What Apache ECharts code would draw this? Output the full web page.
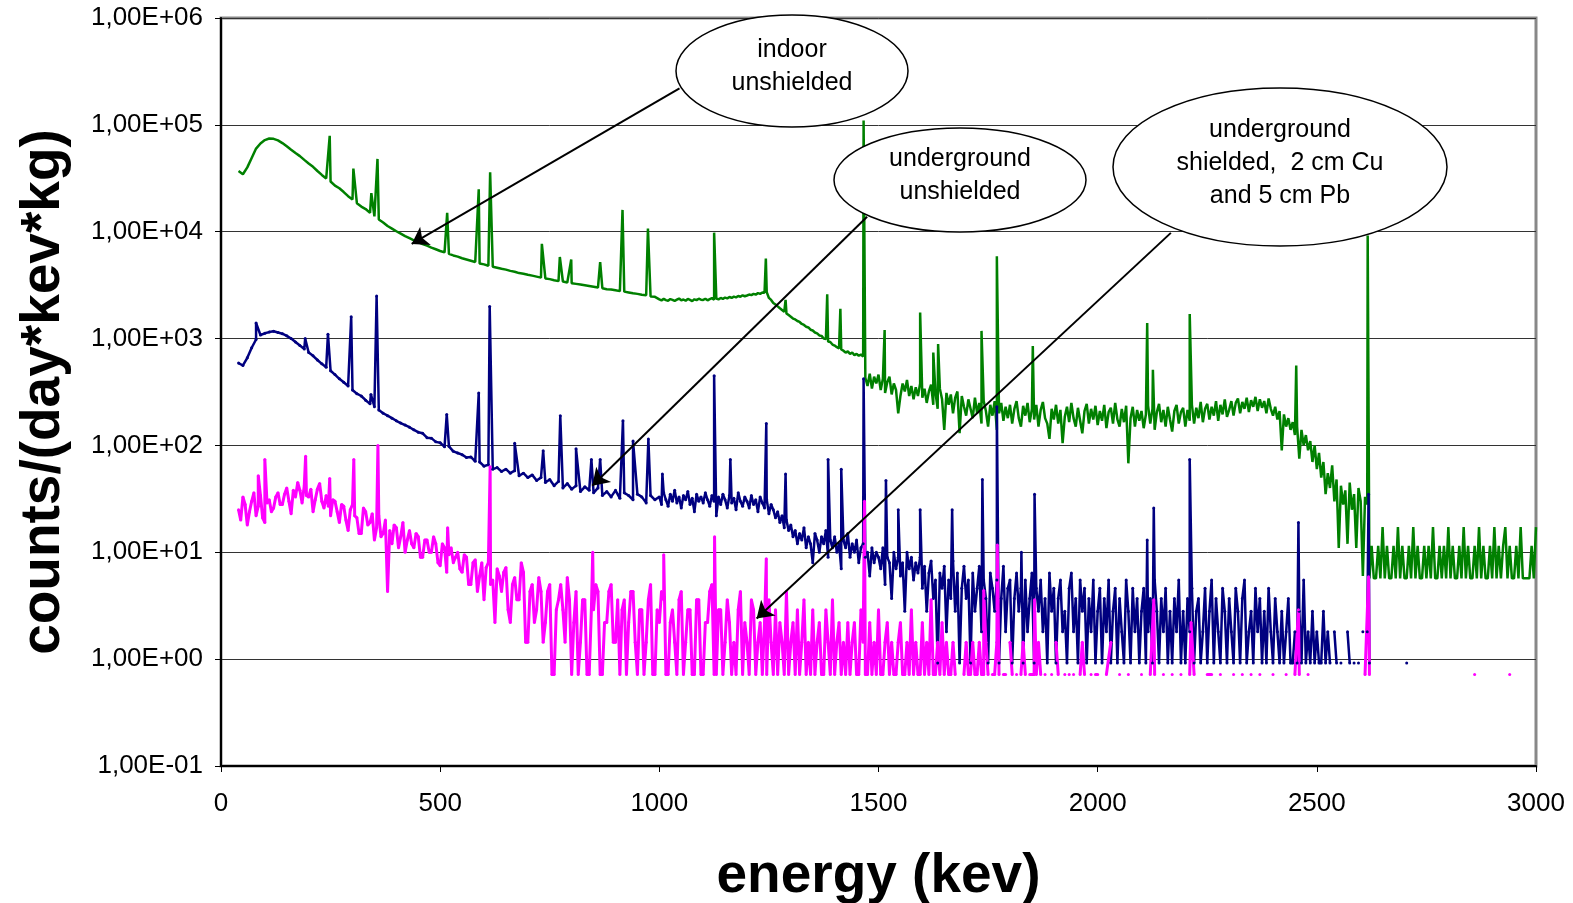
<!DOCTYPE html>
<html>
<head>
<meta charset="utf-8">
<title>gamma background spectra</title>
<script src="https://cdn.jsdelivr.net/npm/echarts@6/dist/echarts.min.js"></script>
<style>
  html, body { margin: 0; padding: 0; background: #fff; }
  #chart { width: 1573px; height: 903px; }
</style>
</head>
<body>
<div id="chart"></div>
<script>
// indoor unshielded (green): 40-990 keV every 10 keV, 1000-3000 keV every 5 keV
var greenLowStart = 40, greenLowStep = 10;
var greenLowCounts = [
  37000, 34500, 40000, 49000, 60000, 67000, 72000, 74500, 74000, 71500,
  67500, 63000, 58500, 54500, 51000, 47000, 43500, 40500, 37000, 34000,
  31500, 29500, 27000, 25500, 23500, 21500, 20000, 18500, 17200, 16300,
  15000, 13900, 13000, 12200, 11300, 10700, 10100, 9600, 9100, 8700,
  8300, 8000, 7650, 7400, 7100, 6850, 6600, 6400, 6200, 6000,
  5850, 5650, 5500, 5350, 5200, 5050, 4950, 4800, 4700, 4600,
  4500, 4420, 4300, 4220, 4100, 4050, 3960, 3880, 3800, 3720,
  3650, 3600, 3520, 3450, 3420, 3350, 3300, 3250, 3200, 3150,
  3100, 3050, 3000, 2960, 2900, 2880, 2830, 2780, 2750, 2700,
  2650, 2620, 2570, 2540, 2480, 2460
];
var greenHighStart = 1000, greenHighStep = 5;
var greenHighCounts = [
  2330, 2280, 2350, 2290, 2260, 2340, 2300, 2250, 2310, 2370, 2280, 2320, 2260, 2350, 2300, 2240, 2330, 2290, 2360, 2310,
  2300, 2360, 2280, 2340, 2390, 2310, 2370, 2330, 2400, 2350, 2420, 2380, 2450, 2400, 2470, 2430, 2500, 2460, 2540, 2490,
  2530, 2580, 2550, 2620, 2580, 2660, 2620, 2700, 2680, 2720, 2400, 2300, 2150, 2080, 2000, 1920, 1850, 1780, 1720, 1660,
  1600, 1540, 1510, 1460, 1430, 1370, 1340, 1290, 1270, 1210, 1190, 1140, 1120, 1070, 1060, 1000, 990, 940, 930, 880,
  860, 830, 810, 790, 770, 740, 760, 720, 740, 700, 720, 690, 710, 680, 430, 360, 470, 340, 440, 380,
  460, 330, 420, 310, 390, 440, 300, 380, 330, 200, 290, 380, 320, 410, 290, 360, 270, 350, 290, 380,
  280, 340, 250, 320, 370, 240, 310, 220, 340, 270, 140, 310, 240, 300, 200, 280, 320, 130, 290, 230,
  190, 270, 220, 180, 280, 200, 250, 160, 260, 210, 150, 240, 190, 260, 140, 200, 250, 170, 230, 180,
  240, 160, 220, 260, 180, 150, 235, 190, 250, 165, 220, 175, 240, 150, 215, 255, 180, 160, 115, 220,
  175, 240, 160, 215, 105, 185, 230, 165, 250, 180, 150, 225, 170, 130, 210, 245, 160, 220, 175, 235,
  155, 210, 170, 240, 145, 205, 225, 160, 250, 175, 150, 220, 165, 235, 68, 180, 230, 150, 215, 170,
  210, 145, 195, 235, 160, 220, 140, 205, 245, 165, 215, 150, 230, 175, 135, 210, 240, 160, 205, 225,
  150, 215, 170, 240, 160, 225, 180, 255, 165, 220, 245, 175, 230, 190, 260, 170, 240, 195, 270, 185,
  215, 260, 190, 250, 275, 200, 255, 220, 280, 205, 265, 230, 285, 210, 270, 225, 260, 200, 275, 220,
  190, 230, 175, 210, 90, 195, 150, 180, 140, 165, 125, 150, 75, 140, 100, 125, 90, 110, 70, 100,
  60, 85, 50, 70, 35, 55, 40, 65, 30, 48, 11, 42, 28, 38, 12, 45, 25, 35, 11, 40,
  30, 6, 33, 28, 5.7, 11.5, 5.7, 5.7, 11.5, 5.7, 17.2, 5.7, 11.5, 5.7, 5.7, 11.5, 5.7, 17.2, 5.7, 11.5,
  5.7, 5.7, 11.5, 5.7, 17.2, 5.7, 11.5, 5.7, 5.7, 11.5, 5.7, 11.5, 5.7, 17.2, 5.7, 5.7, 11.5, 5.7, 11.5, 5.7,
  17.2, 5.7, 11.5, 5.7, 5.7, 11.5, 5.7, 17.2, 5.7, 11.5, 5.7, 5.7, 11.5, 5.7, 17.2, 5.7, 11.5, 5.7, 5.7, 11.5,
  5.7, 17.2, 5.7, 11.5, 5.7, 11.5, 17.2, 5.7, 11.5, 5.7, 5.7, 11.5, 5.7, 17.2, 5.7, 5.7, 5.7, 5.7, 11.5, 5.7,
  17.2
];
var greenPeakE = [248, 302, 343, 357, 516, 588, 614, 732, 773, 799, 865, 916, 974, 1125, 1243, 1288,
  1383, 1413, 1466, 1514, 1595, 1625, 1636, 1735, 1770, 1852, 2113, 2126, 2210, 2453, 2616];
var greenPeakV = [79000, 39000, 23000, 48000, 15000, 25000, 36000, 7700, 5800, 5500, 5200, 16000, 10700, 9800, 5600, 2300,
  2600, 1900, 110000, 1200, 1750, 740, 890, 1180, 5900, 850, 1400, 510, 1700, 560, 9200];

// underground unshielded (blue): 40-990 keV every 10 keV, 1000-2710 keV every 5 keV
var blueLowStart = 40, blueLowStep = 10;
var blueLowCounts = [
  590, 560, 660, 820, 980, 1080, 1120, 1150, 1170, 1140,
  1110, 1060, 1000, 930, 860, 800, 740, 690, 630, 580,
  540, 500, 460, 420, 390, 360, 330, 305, 290, 265,
  245, 230, 215, 200, 190, 180, 170, 162, 155, 148,
  140, 133, 130, 118, 117, 108, 106, 97, 98, 88,
  85, 82, 77, 78, 71, 70, 64, 66, 60, 62,
  57, 60, 55, 58, 52, 55, 50, 53, 47, 50,
  45, 48, 42, 46, 40, 44, 39, 42, 37, 41,
  38, 36, 40, 34, 37, 33, 38, 32, 36, 34,
  31, 35, 33, 29, 34, 31
];
var blueHighStart = 1000, blueHighStep = 5;
var blueHighCounts = [
  33, 28, 36, 31, 27, 35, 30, 38, 29, 33, 26, 34, 31, 37, 28, 32, 24, 35, 30, 33,
  29, 36, 31, 27, 34, 30, 22, 33, 28, 35, 31, 26, 34, 29, 32, 25, 36, 30, 27, 33,
  30, 26, 34, 28, 31, 24, 33, 29, 26, 31, 23, 28, 25, 21, 24, 19, 22, 17, 20, 16,
  18, 14, 16, 12, 15, 13, 17, 11, 14, 12, 8, 15, 13, 10, 14, 12, 16, 9, 13, 11,
  14, 10, 12, 7, 13, 11, 15, 9, 12, 10, 13, 8, 11, 12, 9, 10, 6, 11, 8, 10,
  9, 7, 11, 5, 9, 8, 3.7, 10, 7, 9, 6, 8, 2.8, 10, 7, 9, 5.5, 8, 6.4, 9,
  4.6, 7.4, 2.8, 6.4, 8.3, 3.7, 5.5, 0.92, 6.4, 4.6, 7.4, 1.8, 5.5, 3.7, 8.3, 2.8, 6.4, 0.92, 4.6, 7.4,
  3.7, 5.5, 0.92, 6.4, 2.8, 4.6, 7.4, 1.8, 5.5, 3.7, 0.92, 6.4, 4.6, 2.8, 5.5, 0.92, 3.7, 7.4, 1.8, 4.6,
  5.5, 0.92, 3.7, 6.4, 2.8, 4.6, 0.92, 5.5, 1.8, 3.7, 6.4, 0.92, 4.6, 2.8, 5.5, 1.8, 3.7, 0.92, 6.4, 2.8,
  4.6, 0.92, 3.7, 5.5, 1.8, 2.8, 0.92, 4.6, 6.4, 1.8, 3.7, 0.92, 5.5, 2.8, 4.6, 0.92, 3.7, 1.8, 5.5, 0.92,
  2.8, 4.6, 0.92, 3.7, 1.8, 5.5, 0.92, 2.8, 4.6, 0.92, 3.7, 1.8, 0.92, 5.5, 2.8, 0.92, 4.6, 1.8, 3.7, 0.92,
  2.8, 4.6, 0.92, 1.8, 3.7, 0.92, 5.5, 2.8, 0.92, 3.7, 1.8, 4.6, 0.92, 2.8, 0.92, 3.7, 1.8, 5.5, 0.92, 2.8,
  0.92, 3.7, 1.8, 4.6, 0.92, 2.8, 3.7, 0.92, 1.8, 4.6, 0.92, 2.8, 5.5, 0.92, 3.7, 1.8, 0.92, 4.6, 2.8, 0.92,
  3.7, 1.8, 0.92, 4.6, 2.8, 0.92, 3.7, 5.5, 0.92, 1.8, 2.8, 0.92, 4.6, 1.8, 3.7, 0.92, 2.8, 0.92, 4.6, 1.8,
  0.92, 3.7, 1.8, 0.92, 2.8, 0.92, 1.8, 3.7, 0.92, 0.92, 1.8, 0.92, 2.8, 0.92, 5.5, 0.92, 1.8, 0.92, 2.8, 0.92,
  1.8, 0.92, 0.92, 2.8, 0.92, 1.8, 0.92, null, 1.8, 0.92, null, 0.92, null, null, 1.8, 0.92, null, 0.92, null, 0.92,
  null, 1.8, null, 1.8, 0.92, null, null, null, null, null, null, null, null, null, null, null, null, null, null, null,
  null, 0.92, null
];
var bluePeakE = [80, 192, 244, 297, 342, 355, 515, 588, 613, 670, 735, 774, 810, 845, 865, 917, 940, 975, 1007,
  1125, 1162, 1244, 1288, 1385, 1415, 1466, 1517, 1545, 1595, 1668, 1737, 1770, 1826, 1856, 2113, 2128, 2210, 2458, 2618];
var bluePeakV = [1400, 1000, 1100, 1600, 300, 2500, 195, 310, 2000, 105, 89, 190, 93, 74, 74, 170, 110, 115, 54,
  450, 74, 160, 54, 74, 60, 420, 47, 25, 25, 25, 48, 230, 10, 35, 13, 26, 74, 19, 35];

// underground shielded, 2 cm Cu + 5 cm Pb (magenta): 40-1995 keV every 5 keV, 2000-3000 keV every 10 keV
var pinkLowStart = 40, pinkLowStep = 5;
var pinkLowCounts = [
  25, 20, 33, 28, 18, 24, 30, 36, 22, 27, 34, 21, 19, 29, 31, 24, 26, 33, 36, 28,
  28, 35, 40, 30, 23, 38, 33, 45, 38, 29, 42, 34, 33, 39, 24, 31, 39, 44, 30, 26,
  34, 27, 22, 31, 30, 24, 19, 28, 27, 20, 16, 25, 28, 22, 21, 15, 15, 26, 24, 18,
  19, 23, 13, 17, 22, 14, 15, 20, 4.3, 16, 12, 18, 17, 11, 14, 19, 10, 13, 16, 12,
  11, 15, 14, 9, 9, 13, 13, 10, 10, 14, 12, 8, 7.5, 12, 11, 6.5, 9.5, 11, 8, 9,
  10, 7, 6.5, 9.5, 9, 5, 5, 8, 8.5, 4.3, 6, 8, 3.6, 7.2, 8, 5, 5.5, 2.2, 7, 6,
  4.3, 6.5, 7.2, 2.9, 2.2, 5, 5.8, 3.6, 3.6, 8, 6.5, 1.44, 1.44, 4.3, 5, 2.2, 2.9, 5.8, 4.3, 1.44,
  2.2, 4.3, 5, 0.72, 0.72, 2.9, 3.6, 5, 2.9, 1.44, 5.8, 3.6, 0.72, 2.2, 4.3, 0.72, 1.44, 3.6, 3.6, 0.72,
  0.72, 2.9, 2.9, 5, 4.3, 0.72, 0.72, 2.2, 2.2, 4.3, 5, 1.44, 1.44, 3.6, 0.72, 2.9, 3.6, 0.72, 2.2, 4.3,
  4.3, 1.44, 0.72, 2.9, 2.9, 0.72, 1.44, 3.6, 5, 0.72, 0.72, 2.9, 2.2, 4.3, 3.6, 0.72, 0.72, 2.2, 2.9, 1.44,
  0.72, 3.6, 4.3, 0.72, 1.44, 2.9, 2.9, 0.72, 0.72, 3.6, 3.6, 0.72, 0.72, 2.2, 2.2, 4.3, 5, 0.72, 0.72, 2.9,
  2.9, 0.72, 1.44, 3.6, 2.2, 0.72, 1.44, 0.72, 2.9, 4.3, 0.72, 2.2, 1.44, 0.72, 3.6, 2.9, 0.72, 1.44, 2.2, 0.72,
  2.2, 0.72, 3.6, 1.44, 0.72, 2.9, 0.72, 2.2, 1.44, 0.72, 4.3, 0.72, 1.44, 2.2, 0.72, 2.9, 0.72, 1.44, 3.6, 0.72,
  1.44, 0.72, 2.9, 0.72, 1.44, 2.2, 0.72, 0.72, 2.9, 1.44, 0.72, 3.6, 0.72, 1.44, 2.2, 0.72, 1.44, 0.72, 2.2, 0.72,
  1.44, 2.2, 0.72, 0.72, 2.9, 1.44, 0.72, 0.72, 2.2, 0.72, 1.44, 0.72, 2.9, 0.72, 0.72, 1.44, 2.2, 0.72, 1.44, 0.72,
  0.72, 1.44, 2.2, 0.72, 0.72, 1.44, 0.72, 2.9, 0.72, 1.44, 0.72, 0.72, 2.2, 0.72, 1.44, 0.72, 3.6, 0.72, 0.72, 1.44,
  0.72, 2.2, 0.72, 1.44, 0.72, 0.72, 1.44, 0.72, null, null, null, 0.72, 1.44, 0.72, 0.72, 1.44, 0.72, 0.72, 1.44, 0.72,
  0.72, 1.44, 0.72, null, 0.72, 0.72, 1.44, 0.72, null, 0.72, 0.72, null, 1.44, 0.72, null, 0.72, null, 0.72, 1.44, 0.72,
  null, 0.72, 0.72, 0.72, 0.72, 1.44, 0.72, null, 0.72, null, null, 0.72, null, 1.44, 0.72, null, null, 0.72, null, 0.72,
  null, 0.72, null, null, 0.72, 1.44, 0.72, null, null, 0.72, null, 0.72
];
var pinkTailStart = 2000, pinkTailStep = 10;
var pinkTailCounts = [
  0.72, null, 0.72, 1.44,
  null, 0.72, null, 0.72, null, null, 0.72, null, 0.72, 0.72,
  null, 0.72, null, 0.72, null, 0.72, null, 0.72, 0.72, null,
  null, 0.72, 0.72, null, 0.72, null, null, 0.72, null, 0.72,
  null, 0.72, null, 0.72, null, null, 0.72, null, null, 0.72,
  null, 0.72, 0.72, null, 0.72, null, null, null, null, null,
  null, null, null, null, null, null, null, 0.72, 0.72, null,
  null, null, null, null, null, null, null, null, null, null,
  null, null, null, null, null, null, null, null, null, null,
  null, null, 0.72, null, null, null, null, null, null, null,
  0.72, null, null, null, null, null, null
];
var pinkPeakE = [85, 100, 193, 248, 303, 358, 517, 614, 848, 1010, 1126, 1244, 1468, 1740, 1771, 1856, 2128, 2213, 2458, 2618];
var pinkPeakV = [52, 74, 79, 49, 74, 100, 17, 63, 10, 9.5, 14, 8.7, 30, 4.4, 11.7, 3.6, 3.6, 2.2, 2.9, 5.9];

// annotation arrows [energy, counts] -> [energy, counts]
var arrowFrom = [[1046, 220000], [1474, 13800], [2167, 9750]];
var arrowTo = [[435, 7690], [847, 42], [1222, 2.4]];

var font = 'Liberation Sans, Arial, sans-serif';

function toPoints(segments, peakE, peakV) {
  var pts = [];
  segments.forEach(function (seg) {
    for (var i = 0; i < seg.counts.length; i++) {
      pts.push([seg.start + i * seg.step, seg.counts[i] == null ? '-' : seg.counts[i]]);
    }
  });
  for (var j = 0; j < peakE.length; j++) {
    pts.push([peakE[j], peakV[j]]);
  }
  pts.sort(function (a, b) { return a[0] - b[0]; });
  return pts;
}

// 1,00E+06 style labels
function sciLabel(v) {
  var e = Math.round(Math.log(v) / Math.LN10);
  var a = Math.abs(e);
  return '1,00E' + (e < 0 ? '-' : '+') + (a < 10 ? '0' : '') + a;
}

function bubble(cx, cy, rx, ry, text) {
  return [{
    type: 'ellipse', z: 100,
    shape: { cx: cx, cy: cy, rx: rx, ry: ry },
    style: { fill: '#fff', stroke: '#000', lineWidth: 1.5 }
  }, {
    type: 'text', z: 101, x: cx, y: cy - 4,
    style: {
      text: text, fill: '#000', fontSize: 25, fontFamily: font,
      align: 'center', verticalAlign: 'middle', lineHeight: 33
    }
  }];
}

var arrows = [];
for (var k = 0; k < arrowFrom.length; k++) {
  arrows.push([{ coord: arrowFrom[k] }, { coord: arrowTo[k] }]);
}

var greenData = toPoints([
  { start: greenLowStart, step: greenLowStep, counts: greenLowCounts },
  { start: greenHighStart, step: greenHighStep, counts: greenHighCounts }
], greenPeakE, greenPeakV);
var blueData = toPoints([
  { start: blueLowStart, step: blueLowStep, counts: blueLowCounts },
  { start: blueHighStart, step: blueHighStep, counts: blueHighCounts }
], bluePeakE, bluePeakV);
var pinkData = toPoints([
  { start: pinkLowStart, step: pinkLowStep, counts: pinkLowCounts },
  { start: pinkTailStart, step: pinkTailStep, counts: pinkTailCounts }
], pinkPeakE, pinkPeakV);

var chart = echarts.init(document.getElementById('chart'));
chart.setOption({
  animation: false,
  backgroundColor: '#fff',
  grid: {
    left: 221, right: 37, top: 18, bottom: 137,
    outerBoundsMode: 'none', containLabel: false,
    show: true, backgroundColor: '#fff', borderColor: '#888', borderWidth: 3
  },
  xAxis: {
    type: 'value', min: 0, max: 3000, interval: 500,
    name: 'energy (kev)', nameLocation: 'middle', nameGap: 83,
    nameTextStyle: { fontSize: 55, fontWeight: 'bold', fontFamily: font, color: '#000' },
    axisLine: { show: true, lineStyle: { color: '#000', width: 2 } },
    axisTick: { show: true, length: 6, lineStyle: { color: '#000' } },
    axisLabel: {
      fontSize: 26, fontFamily: font, color: '#000', margin: 25,
      formatter: function (v) { return String(v); }
    },
    splitLine: { show: false }
  },
  yAxis: {
    type: 'log', logBase: 10, min: 0.1, max: 1000000,
    name: 'counts/(day*kev*kg)', nameLocation: 'middle', nameRotate: 90, nameGap: 150,
    nameTextStyle: { fontSize: 55, fontWeight: 'bold', fontFamily: font, color: '#000' },
    axisLine: { show: true, lineStyle: { color: '#000', width: 2 } },
    axisTick: { show: true, length: 6, lineStyle: { color: '#000' } },
    axisLabel: { fontSize: 26, fontFamily: font, color: '#000', margin: 18, formatter: sciLabel },
    splitLine: { show: true, lineStyle: { color: '#333', width: 1 } }
  },
  series: [{
    name: 'indoor unshielded', type: 'line', data: greenData,
    showSymbol: false, connectNulls: false,
    lineStyle: { color: '#008000', width: 2.5 }, itemStyle: { color: '#008000' },
    markLine: {
      silent: true, symbol: ['none', 'arrow'], symbolSize: 16,
      label: { show: false },
      lineStyle: { color: '#000', width: 2, type: 'solid' },
      data: arrows
    }
  }, {
    name: 'underground unshielded', type: 'line', data: blueData,
    showSymbol: true, showAllSymbol: true, symbol: 'circle', symbolSize: 3,
    connectNulls: false,
    lineStyle: { color: '#000080', width: 2.5 }, itemStyle: { color: '#000080' }
  }, {
    name: 'underground shielded', type: 'line', data: pinkData,
    showSymbol: true, showAllSymbol: true, symbol: 'circle', symbolSize: 3,
    connectNulls: false,
    lineStyle: { color: '#ff00ff', width: 3 }, itemStyle: { color: '#ff00ff' }
  }],
  graphic: [].concat(
    bubble(792, 71, 116, 56, 'indoor\nunshielded'),
    bubble(960, 180, 126, 52, 'underground\nunshielded'),
    bubble(1280, 167, 167, 79, 'underground\nshielded,  2 cm Cu\nand 5 cm Pb')
  )
});
</script>
</body>
</html>
